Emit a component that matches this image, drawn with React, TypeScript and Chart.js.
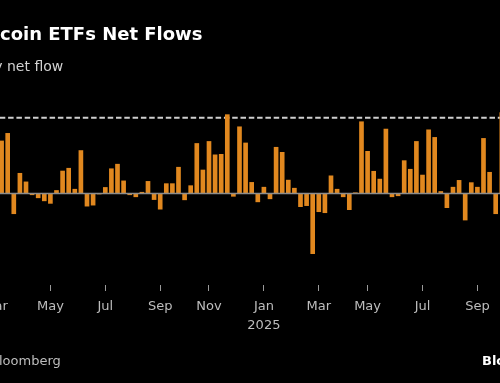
import React, { useEffect, useRef } from 'react';
import { Chart, registerables } from 'chart.js';

Chart.register(...registerables);

// Bars are weekly (Friday week-ending), starting with this week
const firstWeekEnding = '2024-03-08';
// Weekly net flow, $ billions
const netFlowBillions = [
  2.08, 2.38, -0.80, 0.80, 0.46, -0.05, -0.17, -0.29, -0.39, 0.12,
  0.89, 1.00, 0.17, 1.70, -0.50, -0.46, -0.02, 0.24, 0.98, 1.16,
  0.50, -0.05, -0.13, 0.05, 0.48, -0.24, -0.62, 0.39, 0.39, 1.04,
  -0.25, 0.31, 1.98, 0.93, 2.06, 1.53, 1.55, 3.12, -0.11, 2.64,
  2.00, 0.44, -0.33, 0.25, -0.21, 1.83, 1.63, 0.53, 0.21, -0.52,
  -0.48, -2.38, -0.72, -0.76, 0.70, 0.17, -0.13, -0.64, 0.03, 2.84,
  1.67, 0.88, 0.57, 2.55, -0.13, -0.09, 1.30, 0.96, 2.06, 0.73,
  2.52, 2.22, 0.08, -0.56, 0.25, 0.52, -1.05, 0.43, 0.25, 2.18,
  0.84, -0.80, 3.20,
];
// Weeks that carry an axis label (first week of the month)
const tickWeeks = [
  '2024-03-01', '2024-05-03', '2024-07-05', '2024-09-06', '2024-11-01',
  '2025-01-03', '2025-03-07', '2025-05-02', '2025-07-04', '2025-09-05',
];
const tickLabels: (string | string[])[] = [
  'Mar', 'May', 'Jul', 'Sep', 'Nov', ['Jan', '2025'], 'Mar', 'May', 'Jul', 'Sep',
];
const gridLineValue = 3;

const titleText = 'US Bitcoin ETFs Net Flows';
const subtitleText = 'Weekly net flow';
const sourceText = 'Source: Bloomberg';
const logoText = 'Bloomberg';

const FONT = '"DejaVu Sans", sans-serif';
const BAR_COLOR = '#E1881F';
const OX = 70; // canvas x of the visible page's left edge

const refDay = Date.parse('2024-03-15T00:00:00Z');
const dayNum = (s: string) => (Date.parse(s + 'T00:00:00Z') - refDay) / 864e5;
const startDay = dayNum(firstWeekEnding);
const points = netFlowBillions.map((v, i) => ({ x: startDay + 7 * i, y: v }));
const tickDays = tickWeeks.map(dayNum);

const textPlugin = {
  id: 'texts',
  beforeDraw(chart: any) {
    const { ctx, width, height } = chart;
    ctx.save();
    ctx.fillStyle = '#000';
    ctx.fillRect(0, 0, width, height);
    ctx.textAlign = 'left';
    ctx.textBaseline = 'alphabetic';

    ctx.font = `bold 18px ${FONT}`;
    ctx.fillStyle = '#ffffff';
    ctx.fillText(titleText, OX - ctx.measureText('US Bit').width, 39.5);

    ctx.font = `14px ${FONT}`;
    ctx.fillStyle = '#d2d2d2';
    ctx.fillText(subtitleText, OX + 7 - ctx.measureText('Weekly ').width, 71);

    ctx.font = `13px ${FONT}`;
    ctx.fillStyle = '#bdbdbd';
    ctx.fillText(sourceText, OX - 1 - ctx.measureText('Source: B').width, 365);

    ctx.font = `bold 13px ${FONT}`;
    ctx.fillStyle = '#ffffff';
    ctx.fillText(logoText, OX + 482, 365);
    ctx.restore();
  },
  beforeDatasetsDraw(chart: any) {
    const { ctx, chartArea, scales } = chart;
    const y = scales.y.getPixelForValue(gridLineValue);
    ctx.save();
    ctx.strokeStyle = '#cfcfcf';
    ctx.lineWidth = 2;
    ctx.setLineDash([5.5, 2.8]);
    ctx.beginPath();
    ctx.moveTo(chartArea.left, y);
    ctx.lineTo(chartArea.right, y);
    ctx.stroke();
    ctx.restore();
  },
  afterDatasetsDraw(chart: any) {
    const { ctx, chartArea, scales } = chart;
    const y = scales.y.getPixelForValue(0);
    ctx.save();
    ctx.strokeStyle = '#8c8c8c';
    ctx.lineWidth = 1.6;
    ctx.beginPath();
    ctx.moveTo(chartArea.left, y);
    ctx.lineTo(chartArea.right, y);
    ctx.stroke();
    ctx.restore();
  },
};

export default function App() {
  const ref = useRef<HTMLCanvasElement | null>(null);
  useEffect(() => {
    if (!ref.current) return;
    const chart = new Chart(ref.current, {
      type: 'bar',
      data: {
        datasets: [
          {
            label: 'Weekly net flow',
            data: points as any,
            backgroundColor: BAR_COLOR,
            borderWidth: 0,
            barThickness: 4,
          },
        ],
      },
      options: {
        animation: false,
        responsive: false,
        events: [],
        layout: { padding: { left: 20, right: 25, top: 100, bottom: 0 }, autoPadding: false },
        plugins: { legend: { display: false }, tooltip: { enabled: false }, title: { display: false } },
        scales: {
          x: {
            type: 'linear',
            offset: false,
            min: -66.21,
            max: 570.68,
            afterFit: (scale: any) => {
              scale.height = 98;
              scale.paddingLeft = 0;
              scale.paddingRight = 0;
            },
            afterBuildTicks: (scale: any) => {
              scale.ticks = tickDays.map((v) => ({ value: v }));
            },
            grid: {
              offset: false,
              drawOnChartArea: false,
              drawTicks: true,
              tickLength: 6,
              tickColor: '#9a9a9a',
              tickWidth: 1,
            },
            border: { display: false },
            ticks: {
              autoSkip: false,
              maxRotation: 0,
              padding: 7,
              color: '#bdbdbd',
              font: { family: FONT, size: 13, lineHeight: 1.4 },
              callback: (_v: any, i: number) => tickLabels[i],
            },
          },
          y: {
            type: 'linear',
            display: false,
            min: -3.62,
            max: 3.70,
          },
        },
      },
      plugins: [textPlugin],
    });
    return () => chart.destroy();
  }, []);
  return (
    <div
      style={{
        position: 'fixed',
        left: 0,
        top: 0,
        width: 500,
        height: 383,
        overflow: 'hidden',
        background: '#000',
      }}
    >
      <canvas
        ref={ref}
        width={600}
        height={383}
        style={{ position: 'absolute', left: -OX, top: 0, width: 600, height: 383 }}
      />
    </div>
  );
}
